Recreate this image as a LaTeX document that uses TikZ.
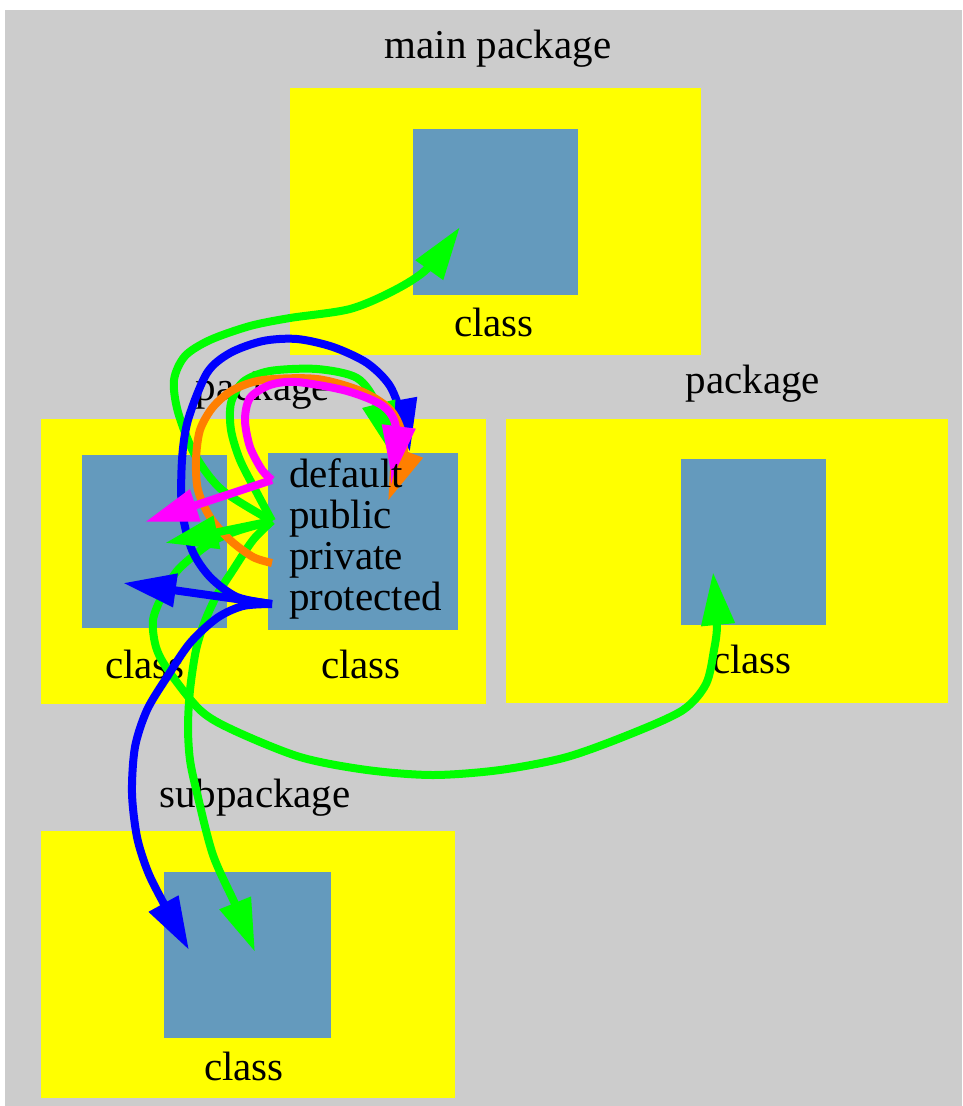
\documentclass[tikz,border=0pt]{standalone}
\usepackage{fontspec}
\setmainfont{Liberation Serif}
\usetikzlibrary{arrows.meta}
\definecolor{bggray}{HTML}{CCCCCC}
\definecolor{pkgyellow}{HTML}{FFFF00}
\definecolor{clsblue}{RGB}{100,154,189}
\definecolor{egreen}{HTML}{00FF00}
\definecolor{eblue}{HTML}{0000FF}
\definecolor{eorange}{HTML}{FF7F00}
\definecolor{emagenta}{HTML}{FF00FF}

\begin{document}
\begin{tikzpicture}[x=1pt,y=-1pt,
  box/.style={rectangle, inner sep=0pt, draw=none},
  pkgbox/.style={box, fill=pkgyellow},
  clsbox/.style={box, fill=clsblue},
  lbl/.style={inner sep=0pt, anchor=base, font=\fontsize{41}{41}\selectfont},
  member/.style={lbl, anchor=base west},
  link/.style={line width=8pt, -{Triangle[length=53pt,width=32pt]}},
]
\useasboundingbox (0,0) rectangle (962,1106);

% outer cluster
\node[box, fill=bggray, minimum width=957pt, minimum height=1096pt] (main) at (483.5,558) {};
\node[lbl] (mainlbl) at (498,58) {main package};

% package holding the target class
\node[pkgbox, minimum width=411pt, minimum height=267pt] (topkg) at (495.5,221.5) {};
\node[clsbox, minimum width=165pt, minimum height=166pt] (topcls) at (495.5,212) {};
\node[lbl] (topclslbl) at (494,336) {class};

% package with the member class
\node[pkgbox, minimum width=445pt, minimum height=285pt] (lpkg) at (263.5,561.5) {};
\node[lbl] (lpkglbl) at (263,400) {package};
\node[clsbox, minimum width=145pt, minimum height=173pt] (lcls) at (154.5,541.5) {};
\node[lbl] (lclslbl) at (145,678) {class};
\node[clsbox, minimum width=190pt, minimum height=177pt] (pcls) at (363,541.5) {};
\node[lbl] (pclslbl) at (361,678) {class};

% neighbouring package
\node[pkgbox, minimum width=442pt, minimum height=284pt] (rpkg) at (727,561) {};
\node[lbl] (rpkglbl) at (753,393) {package};
\node[clsbox, minimum width=145pt, minimum height=166pt] (rcls) at (753.5,542) {};
\node[lbl] (rclslbl) at (752,673) {class};

% subpackage
\node[pkgbox, minimum width=414pt, minimum height=267pt] (spkg) at (248,964.5) {};
\node[lbl] (spkglbl) at (255,807) {subpackage};
\node[clsbox, minimum width=167pt, minimum height=166pt] (scls) at (247.5,955) {};
\node[lbl] (sclslbl) at (244,1080) {class};

% member ports
\coordinate (pd) at (272,480);
\coordinate (pu) at (272,521);
\coordinate (pv) at (272,563);
\coordinate (pp) at (272,604);

% arrow ends
\coordinate (t-top) at (460,227);
\coordinate (t-rcls) at (713,572);
\coordinate (t-scls-g) at (255,952);
\coordinate (t-scls-b) at (189,950);
\coordinate (t-def-b) at (410,452);
\coordinate (t-def-g) at (392,455);
\coordinate (t-def-o) at (388,501);
\coordinate (t-def-m) at (392,479);
\coordinate (t-lcls-m) at (145,522);
\coordinate (t-lcls-g) at (165,543);
\coordinate (t-lcls-b) at (123,583);

% public: to other packages
\draw[link, egreen] plot[smooth] coordinates {(pu) (222,490) (195,455) (178,412) (174,380) (185,356) (210,340) (250,326) (290,318) (350,309) (395,290) (428,268) (t-top)};
\draw[link, egreen] plot[smooth] coordinates {(pu) (240,530) (217,539) (197,553) (177,571) (163,594) (153,620) (156,647) (168,670) (200,710) (233,730) (300,757) (367,770) (433,775) (500,770) (567,757) (633,733) (683,710) (706,684) (714,650) (717,623) (t-rcls)};
\draw[link, egreen] plot[smooth] coordinates {(pu) (253,540) (233,570) (217,595) (205,621) (196,650) (190,690) (188,727) (190,760) (197,793) (213,855) (236,906) (t-scls-g)};

% loops back onto the class itself
\draw[link, eblue] plot[smooth] coordinates {(pp) (237,597) (210,577) (192,550) (182,510) (182,460) (188,420) (207,373) (230,353) (263,341) (297,339) (333,347) (367,363) (390,386) (403,420) (t-def-b)};
\draw[link, egreen] plot[smooth] coordinates {(pu) (257,493) (240,460) (231,430) (231,403) (243,382) (270,371) (317,369) (357,378) (377,405) (t-def-g)};
\draw[link, eorange] plot[smooth] coordinates {(pv) (253,557) (230,540) (210,517) (198,490) (196,460) (200,430) (213,407) (233,390) (263,380) (317,379) (363,392) (393,413) (404,449) (t-def-o)};
\draw[link, emagenta] plot[smooth] coordinates {(pd) (262,470) (250,447) (245,420) (250,398) (270,385) (297,382) (347,391) (383,406) (396,428) (t-def-m)};

% to the neighbouring class
\draw[link, egreen] (pu) -- (t-lcls-g);
\draw[link, emagenta] (pd) -- (t-lcls-m);
\draw[link, eblue] (pp) -- (t-lcls-b);

% protected: to the subpackage
\draw[link, eblue] plot[smooth] coordinates {(pp) (243,606) (217,618) (190,643) (167,677) (147,710) (135,747) (132,793) (137,837) (148,872) (164,904) (t-scls-b)};

% member names, set above the arrows
\node[member] (mdefault) at (289,487) {default};
\node[member] (mpublic) at (289,528) {public};
\node[member] (mprivate) at (289,569) {private};
\node[member] (mprotected) at (289,610) {protected};
\end{tikzpicture}
\end{document}
